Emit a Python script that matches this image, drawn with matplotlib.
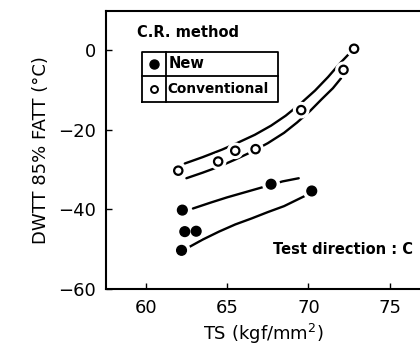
import matplotlib
matplotlib.use("Agg")
import matplotlib.pyplot as plt
import matplotlib.patheffects as pe

# Data
conv_ts = [62.0, 64.45, 65.5, 66.75, 69.55, 72.15, 72.8]
conv_fatt = [-30.3, -28.0, -25.3, -24.9, -15.1, -5.0, 0.3]
new_ts = [62.25, 62.4, 63.1, 62.2, 67.7, 70.2]
new_fatt = [-40.2, -45.6, -45.5, -50.3, -33.7, -35.4]

# Hand-drawn band curves
conv_up_x = [62.4, 63.5, 64.7, 65.7, 66.7, 67.7, 68.6, 69.5, 70.4, 71.2, 71.9, 72.6]
conv_up_y = [-28.5, -26.9, -25.0, -23.2, -21.3, -19.0, -16.5, -13.5, -10.2, -6.8, -3.5, -0.5]
conv_lo_x = [62.5, 63.5, 64.5, 65.5, 66.5, 67.5, 68.5, 69.3, 70.1, 70.8, 71.5, 72.0]
conv_lo_y = [-32.2, -30.8, -29.3, -27.5, -25.6, -23.4, -20.8, -18.2, -15.3, -12.4, -9.6, -7.1]
new_up_x = [62.9, 64.0, 65.0, 66.2, 67.4, 68.4, 69.4]
new_up_y = [-39.8, -38.3, -37.0, -35.6, -34.2, -33.0, -32.2]
new_lo_x = [62.7, 63.5, 64.5, 65.5, 66.5, 67.5, 68.5, 69.3, 70.0]
new_lo_y = [-49.4, -47.6, -45.6, -43.8, -42.3, -40.7, -39.2, -37.6, -36.2]

xticks = [60, 65, 70, 75]
yticks = [0, -20, -40, -60]

plt.rcParams['font.family'] = ['DejaVu Sans']

fig = plt.figure(figsize=(4.2, 3.52), dpi=100)
ax = fig.add_axes([0.252, 0.179, 0.748, 0.79])

halo = [pe.Stroke(linewidth=6, foreground='white'), pe.Normal()]
for xs, ys in [(conv_up_x, conv_up_y), (conv_lo_x, conv_lo_y),
               (new_up_x, new_up_y), (new_lo_x, new_lo_y)]:
    ax.plot(xs, ys, color='black', lw=1.7, zorder=2, solid_capstyle='round',
            solid_joinstyle='round')

ax.plot(conv_ts, conv_fatt, 'o', ms=6, mfc='white', mec='black', mew=1.6,
        zorder=4, path_effects=halo)
ax.plot(new_ts, new_fatt, 'o', ms=7, mfc='black', mec='black', mew=1,
        zorder=4, path_effects=halo)

ax.set_xlim(57.55, 76.85)
ax.set_ylim(-60, 9.8)
ax.set_xticks(xticks)
ax.set_yticks(yticks)
ax.set_xticklabels([str(v) for v in xticks])
ax.set_yticklabels(['0', '\u221220', '\u221240', '\u221260'])
ax.tick_params(direction='in', length=4, width=1, labelsize=13, pad=7)
for s in ['left', 'bottom', 'top']:
    ax.spines[s].set_linewidth(1.5)
ax.spines['right'].set_visible(False)

ax.set_xlabel('TS (kgf/mm$^2$)', fontsize=13, labelpad=4)
ax.set_ylabel('DWTT 85% FATT (\u00b0C)', fontsize=13, labelpad=6)

# Legend drawn as a small table
tr = ax.transAxes
def px(x, y):
    # convert figure pixel coords to axes fraction
    return ((x - 106) / (420 - 106), (289 - y) / (289 - 11))

tx, ty = px(137, 33)
ax.text(tx, ty, 'C.R. method', transform=tr, fontsize=10.5, ha='left', va='center',
        fontweight='bold')
x0, y0 = px(142, 102)
x1, y1 = px(278, 52)
xd, _ = px(166, 0)
_, ym = px(0, 76)
box = dict(color='black', lw=1.3, transform=tr, clip_on=False)
ax.plot([x0, x1, x1, x0, x0], [y0, y0, y1, y1, y0], **box)
ax.plot([xd, xd], [y0, y1], **box)
ax.plot([x0, x1], [ym, ym], **box)
mx = (x0 + xd) / 2
ax.plot([mx], [(ym + y1) / 2], 'o', ms=6.5, mfc='black', mec='black', transform=tr)
ax.plot([mx], [(ym + y0) / 2], 'o', ms=5, mfc='white', mec='black', mew=1.4, transform=tr)
ax.text(xd + 0.01, (ym + y1) / 2, 'New', transform=tr, fontsize=10.5, ha='left',
        va='center', fontweight='bold')
ax.text(xd + 0.006, (ym + y0) / 2, 'Conventional', transform=tr, fontsize=9.8,
        ha='left', va='center', fontweight='bold')

tx, ty = px(273, 250)
ax.text(tx, ty, 'Test direction : C', transform=tr, fontsize=10.5, ha='left',
        va='center', fontweight='bold')

fig.savefig('out.png', dpi=100)
